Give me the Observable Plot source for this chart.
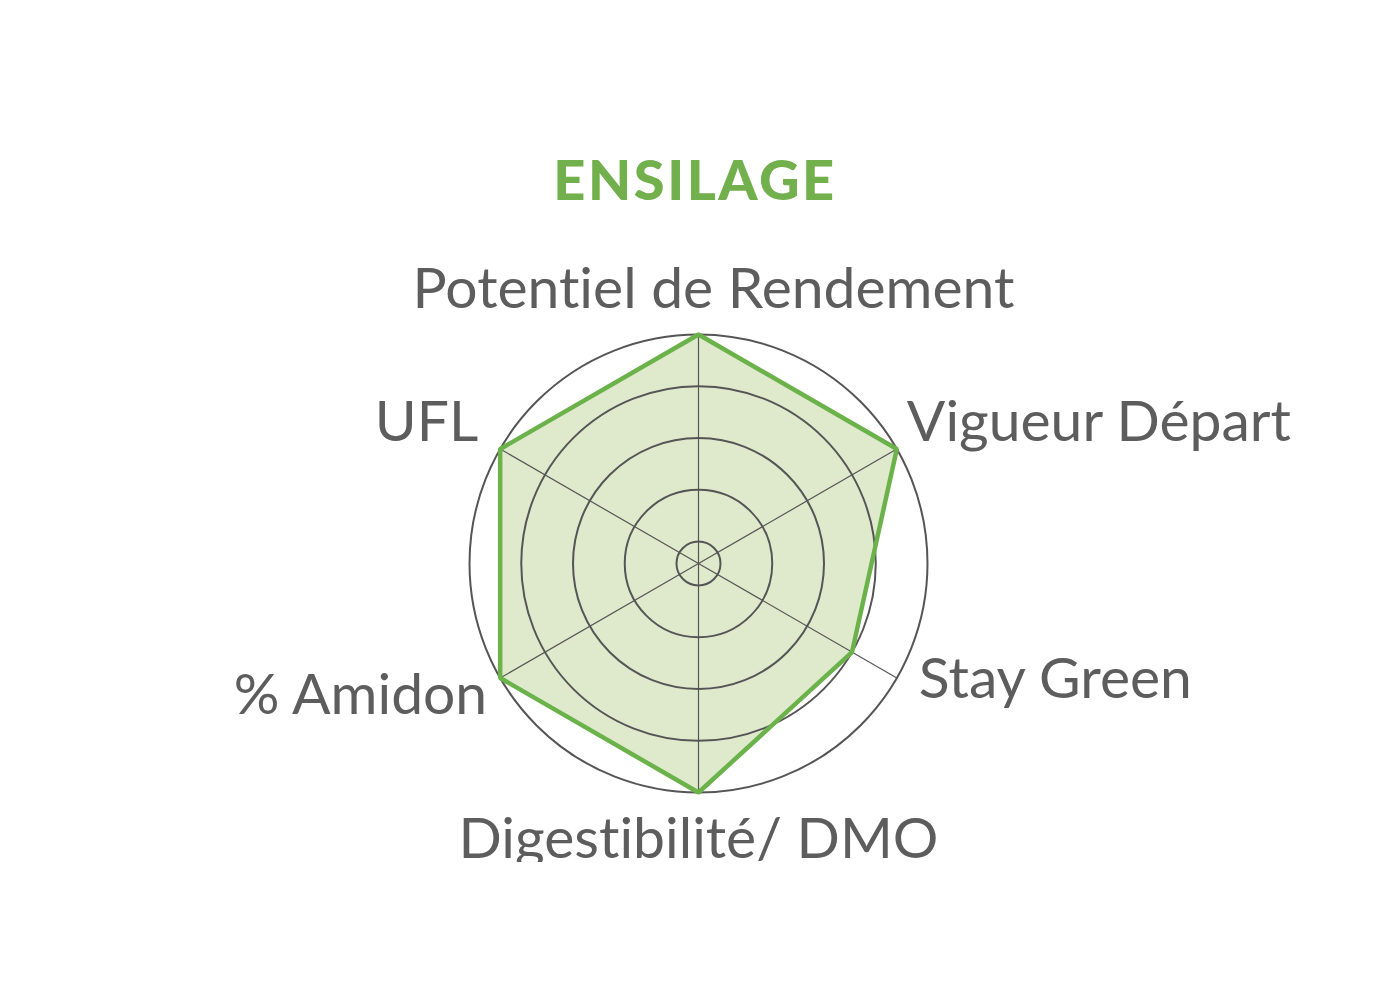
<!DOCTYPE html>
<html>
<head>
<meta charset="utf-8">
<script src="https://cdn.jsdelivr.net/npm/d3@7"></script>
<script src="https://cdn.jsdelivr.net/npm/@observablehq/plot@0.6"></script>
<style>
  html, body { margin: 0; padding: 0; background: #fff; }
  #wrap { position: relative; width: 1400px; height: 1000px; }
  #title { position: absolute; left: 0; top: 151px; width: 1390px; text-align: center;
    font-family: Lato, sans-serif; font-weight: 900; font-size: 56px; line-height: 56px;
    color: #72af4d; letter-spacing: 2.5px; }
  #chart { position: absolute; left: 0; top: 0; }
  svg text { font-variant-ligatures: none; font-feature-settings: "liga" 0, "clig" 0; }
</style>
</head>
<body>
<div id="wrap">
  <div id="chart"></div>
  <div id="title">ENSILAGE</div>
</div>
<script>
// Data
const categories = ["Potentiel de Rendement", "Vigueur Départ", "Stay Green", "Digestibilité/ DMO", "% Amidon", "UFL"];
const values = [5, 5, 4, 5, 5, 5];
const ringValues = [1, 2, 3, 4, 5];
const maxValue = 5;

// Radial scale (value -> distance from centre, in plot units)
const rScale = Plot.scale({x: {type: "linear", domain: [1, 5], range: [22, 229]}});
const rad = v => rScale.apply(v);

const axes = categories.map((name, i) => ({name, i, angle: i * 2 * Math.PI / categories.length, value: values[i]}));
const px = (a, v) => rad(v) * Math.sin(a);
const py = (a, v) => rad(v) * Math.cos(a);

const gridColor = "#555555";
const textColor = "#5d5d5d";
const green = "#6cb24b";
const fillGreen = "#dfeacd";
const font = "Lato, sans-serif";

const labelStyle = [
  {dx: 15, dy: -27, anchor: "middle"},
  {dx: 10, dy: -8, anchor: "start"},
  {dx: 22, dy: 20, anchor: "start"},
  {dx: 0, dy: 65, anchor: "middle"},
  {dx: -13, dy: 36, anchor: "end"},
  {dx: -22, dy: -8, anchor: "end"}
];

const marks = [
  Plot.line(axes, {x: d => px(d.angle, d.value), y: d => py(d.angle, d.value), curve: "linear-closed", fill: fillGreen, stroke: "none"}),
  Plot.dot(ringValues, {x: () => 0, y: () => 0, r: d => rad(d), stroke: gridColor, strokeWidth: 2, fill: "none"}),
  Plot.link(axes, {x1: () => 0, y1: () => 0, x2: d => px(d.angle, maxValue), y2: d => py(d.angle, maxValue), stroke: gridColor, strokeWidth: 1.2}),
  Plot.line(axes, {x: d => px(d.angle, d.value), y: d => py(d.angle, d.value), curve: "linear-closed", stroke: green, strokeWidth: 4.5, strokeLinejoin: "miter"}),
  ...axes.map((d, i) => Plot.text([d], {
    x: a => px(a.angle, maxValue), y: a => py(a.angle, maxValue), text: "name",
    textAnchor: labelStyle[i].anchor, lineAnchor: "bottom", dx: labelStyle[i].dx, dy: labelStyle[i].dy,
    fontSize: 57, fill: textColor, fontFamily: font
  }))
];

const chart = Plot.plot({
  width: 1400,
  height: 862,
  margin: 0,
  x: {domain: [-698, 702], range: [0, 1400], axis: null},
  y: {domain: [-299, 563], range: [862, 0], axis: null},
  r: {type: "identity"},
  style: {background: "transparent", fontFamily: font},
  marks
});
document.getElementById("chart").appendChild(chart);
</script>
</body>
</html>
